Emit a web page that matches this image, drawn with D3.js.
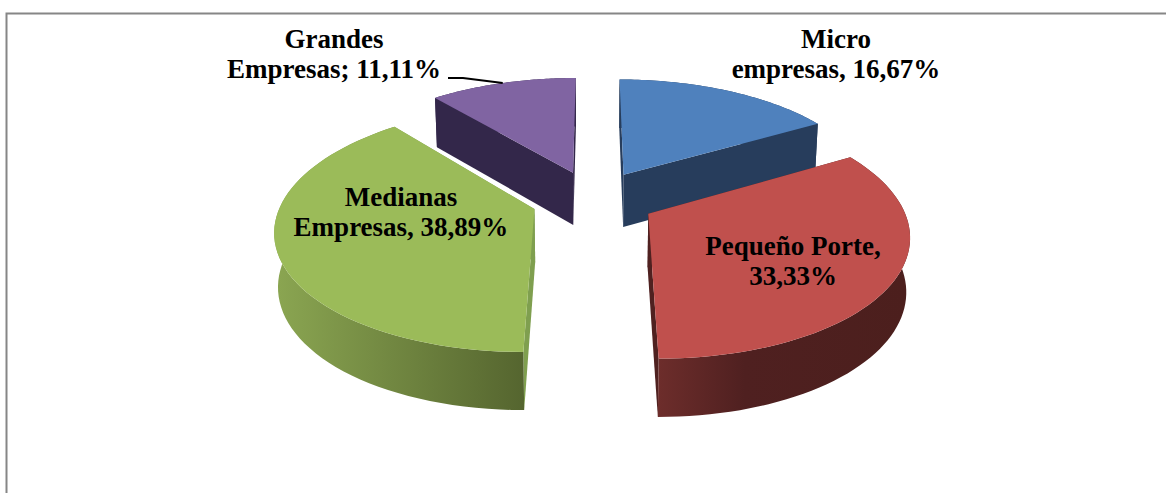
<!DOCTYPE html>
<html>
<head>
<meta charset="utf-8">
<script src="https://d3js.org/d3.v7.min.js"></script>
<style>
  html, body { margin: 0; padding: 0; background: #fff; overflow: hidden; }
  svg { display: block; }
  text { font-family: "Liberation Serif", serif; font-weight: bold; font-size: 27px; fill: #000; text-anchor: middle; }
</style>
</head>
<body>
<svg width="1166" height="493"></svg>
<script>
var categories = ["Micro", "Pequeño Porte", "Medianas", "Grandes"];
var second_words = ["empresas", "", "Empresas", "Empresas"];
var separators = [", ", ", ", ", ", "; "];
var values = [16.67, 33.33, 38.89, 11.11];

// slice colours, same order as categories
var top_cols = ["#4f81bd", "#c0504d", "#9bbb59", "#8064a2"];
var cut_cols = ["#273d5c", "#4f2120", "#7f9f4f", "#33274a"];
var wall_cols = [
  ["#273d5c", "#273d5c"],
  ["#6d2d2b", "#4f2020", "#4c1f1d"],
  ["#8aa551", "#55652f"],
  ["#33274a", "#33274a"]
];

// where the labels sit, [x, first baseline]
var label_pos = [[836, 48], [793, 255], [401, 206], [334, 48]];
var line_step = 30;

// flattened 3d view of the pie
var cx = 593.5, cy = 199;
var radius = 252, pull = 62, tilt = 0.465, persp = 0.00062;
var depth = 53, shrink = 0.988;

var svg = d3.select("svg");

svg.append("path")
  .attr("d", "M6.5,493V13.5H1166")
  .attr("fill", "none")
  .attr("stroke", "#868686")
  .attr("stroke-width", 2);

var defs = svg.append("defs");

// project a point of the pie plane, on the top or the bottom of the disc
function project(X, Y, bottom) {
  var s = 1 / (1 - persp * Y);
  var x = X * s, y = Y * tilt * s;
  if (bottom) {
    x = x * shrink;
    y = y + depth * Math.sqrt(s);
  }
  return [cx + x, cy + y];
}

function slice_point(d, a, r, bottom) {
  var mid = (d.startAngle + d.endAngle) / 2;
  var X = pull * Math.sin(mid) + r * Math.sin(a);
  var Y = -pull * Math.cos(mid) - r * Math.cos(a);
  return project(X, Y, bottom);
}

function arc_points(d, bottom) {
  var n = 60;
  return d3.range(n + 1).map(function(i) {
    var a = d.startAngle + (d.endAngle - d.startAngle) * i / n;
    return slice_point(d, a, radius, bottom);
  });
}

var line = d3.line().curve(d3.curveLinear);

function closed(pts) { return line(pts) + "Z"; }

function cut_path(d, a) {
  return closed([
    slice_point(d, a, 0, false),
    slice_point(d, a, radius, false),
    slice_point(d, a, radius, true),
    slice_point(d, a, 0, true)
  ]);
}

var pie = d3.pie().sort(null).value(function(d) { return d; });
var slices = pie(values);

// far slices first, near ones paint over them
var draw_order = [3, 0, 2, 1];

draw_order.forEach(function(i) {
  var d = slices[i];
  var g = svg.append("g").attr("class", "slice");

  var top_edge = arc_points(d, false);
  var low_edge = arc_points(d, true);

  var xr = d3.extent(low_edge, function(p) { return p[0]; });
  var grad = defs.append("linearGradient")
    .attr("id", "wall" + i)
    .attr("gradientUnits", "userSpaceOnUse")
    .attr("x1", xr[0]).attr("x2", xr[1]).attr("y1", 0).attr("y2", 0);
  var stops = wall_cols[i];
  var stop_offsets = stops.length == 3 ? [0, 0.35, 1] : [0, 1];
  stops.forEach(function(c, k) {
    grad.append("stop").attr("offset", stop_offsets[k]).attr("stop-color", c);
  });

  var wall = closed(top_edge.concat(low_edge.reverse()));
  var mid = (d.startAngle + d.endAngle) / 2;
  var front = Math.cos(mid) < 0;

  if (!front) g.append("path").attr("d", wall).attr("fill", "url(#wall" + i + ")");
  [d.startAngle, d.endAngle].forEach(function(a) {
    g.append("path").attr("d", cut_path(d, a)).attr("fill", cut_cols[i]);
  });
  if (front) g.append("path").attr("d", wall).attr("fill", "url(#wall" + i + ")");

  g.append("path")
    .attr("d", closed([slice_point(d, d.startAngle, 0, false)].concat(top_edge)))
    .attr("fill", top_cols[i]);
});

// leader of the Grandes label
var g_mid = (slices[3].startAngle + slices[3].endAngle) / 2;
var leader_end = slice_point(slices[3], g_mid, radius, false);
svg.append("path")
  .attr("d", line([[448, 78], [463, 78], leader_end]))
  .attr("fill", "none")
  .attr("stroke", "#000")
  .attr("stroke-width", 2);

var fmt = function(v) { return v.toFixed(2).replace(".", ",") + "%"; };

categories.forEach(function(c, i) {
  var lines;
  if (second_words[i]) {
    lines = [c, second_words[i] + separators[i] + fmt(values[i])];
  } else {
    lines = [c + separators[i].trim(), fmt(values[i])];
  }
  lines.forEach(function(t, k) {
    svg.append("text")
      .attr("x", label_pos[i][0])
      .attr("y", label_pos[i][1] + k * line_step)
      .text(t);
  });
});
</script>
</body>
</html>
